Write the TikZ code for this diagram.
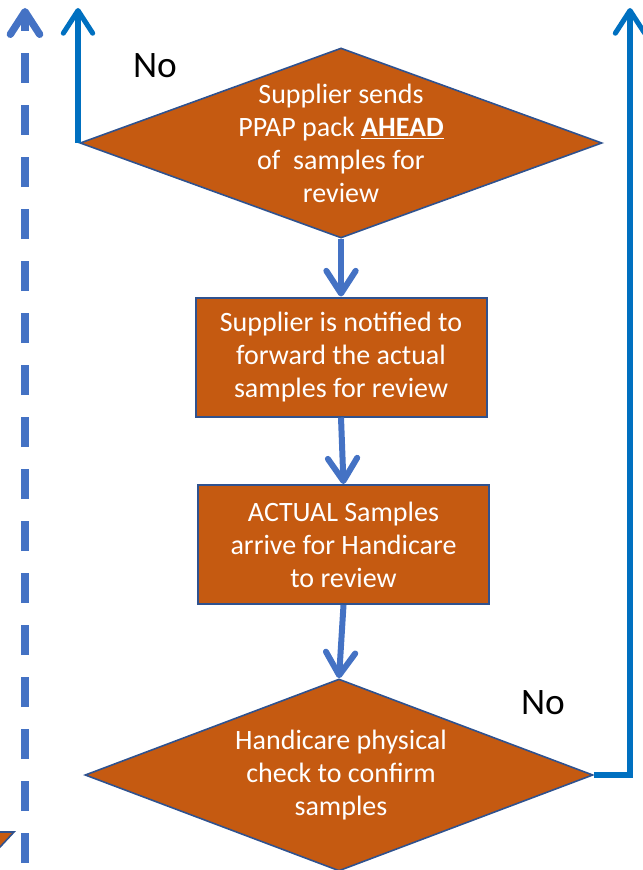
\documentclass[tikz,border=0pt]{standalone}
\usepackage{fontspec}
\setmainfont{Carlito}
\usetikzlibrary{shapes.geometric,arrows.meta}
\definecolor{procorange}{HTML}{C55A11}
\definecolor{procedge}{HTML}{2F528F}
\definecolor{flowblue}{HTML}{4472C4}
\definecolor{loopblue}{HTML}{0070C0}
\tikzset{
  decision/.style={diamond,fill=procorange,draw=procedge,line width=1.2pt,inner sep=0pt},
  process/.style={rectangle,fill=procorange,draw=procedge,line width=1.5pt,inner sep=0pt,
    text=white,align=center,font=\fontsize{21}{24.75}\selectfont},
  label text/.style={text=white,align=center,font=\fontsize{21}{24.75}\selectfont},
  answer/.style={text=black,font=\fontsize{28}{32}\selectfont},
  barb/.tip={Straight Barb[length=17pt,width=22pt,line cap=round,line join=round]},
  flow/.style={draw=flowblue,line width=4.5pt,-barb},
  loop/.style={draw=loopblue,line width=3.8pt,-barb},
  back/.style={draw=flowblue,line width=5.5pt,dash pattern=on 22.5pt off 16.5pt,-barb}
}
\begin{document}
\begin{tikzpicture}[x=0.75pt,y=-0.75pt]
\useasboundingbox (0,0) rectangle (642,870);

% edge of a shape continuing beyond the left border
\path[fill=procorange,draw=procedge,line width=1.2pt] (-40,832) -- (14,832) -- (-40,890) -- cycle;

% flowchart shapes
\node[decision,minimum width=522*0.75pt,minimum height=190*0.75pt] (d1) at (341,143) {};
\node[label text] (t1) at (341,143) {Supplier sends\\PPAP pack \textbf{\underline{AHEAD}}\\of\ \ samples for\\review};
\node[process,minimum width=291*0.75pt,minimum height=119*0.75pt] (b1) at (341,357)
  {Supplier is notified to\\forward the actual\\samples for review};
\node[process,minimum width=291*0.75pt,minimum height=119*0.75pt] (b2) at (343.5,544.5)
  {ACTUAL Samples\\arrive for Handicare\\to review};
\node[decision,minimum width=508*0.75pt,minimum height=192*0.75pt] (d2) at (339,775) {};
\node[label text] (t2) at (341,775) {Handicare physical\\check to confirm\\samples};

% answers
\node[answer] (no1) at (155,66) {No};
\node[answer] (no2) at (543,703) {No};

% main flow
\draw[flow] (d1.south) -- (b1.north);
\draw[flow] (b1.south) -- (b2.north);
\draw[flow] (b2.south) -- (d2.north);

% "No" return paths
\coordinate (lt) at (78,8);
\coordinate (rt) at (630,8);
\draw[loop] (d1.west -| lt) -- (lt);
\draw[loop,line join=miter] (d2.east) -| (rt);

% dashed return path on the left
\coordinate (ds) at (25,863);
\coordinate (dt) at (25,8);
\draw[back] (ds) -- (dt);
\end{tikzpicture}
\end{document}
